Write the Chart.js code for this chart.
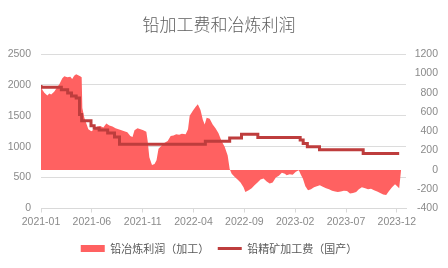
<!DOCTYPE html>
<html>
<head>
<meta charset="utf-8">
<script src="https://cdn.jsdelivr.net/npm/chart.js@4.4.1/dist/chart.umd.min.js"></script>
<style>
  html, body { margin: 0; padding: 0; background: #fff; }
  #wrap { width: 448px; height: 268px; }
</style>
</head>
<body>
<div id="wrap"><canvas id="chart"></canvas></div>
<script>
const tickLabels = ["2021-01", "2021-06", "2021-11", "2022-04", "2022-09", "2023-02", "2023-07", "2023-12"];

// 铅冶炼利润（加工） - right axis
const profitDates = ["2021-01-01","2021-01-05","2021-01-11","2021-01-20","2021-01-26","2021-02-01","2021-02-10","2021-02-18","2021-02-26","2021-03-04","2021-03-10","2021-03-19","2021-03-28","2021-04-03","2021-04-09","2021-04-15","2021-04-21","2021-04-27","2021-05-01","2021-05-03","2021-05-09","2021-05-15","2021-05-21","2021-05-30","2021-06-08","2021-06-17","2021-06-26","2021-07-05","2021-07-14","2021-07-23","2021-08-02","2021-08-11","2021-08-20","2021-08-29","2021-09-07","2021-09-16","2021-09-25","2021-10-01","2021-10-07","2021-10-16","2021-10-25","2021-11-03","2021-11-12","2021-11-16","2021-11-21","2021-11-29","2021-12-06","2021-12-12","2021-12-18","2021-12-27","2022-01-06","2022-01-15","2022-01-24","2022-02-02","2022-02-10","2022-02-19","2022-02-27","2022-03-08","2022-03-15","2022-03-20","2022-03-29","2022-04-07","2022-04-14","2022-04-22","2022-04-29","2022-05-04","2022-05-10","2022-05-19","2022-05-28","2022-06-06","2022-06-15","2022-06-24","2022-07-03","2022-07-12","2022-07-18","2022-07-24","2022-08-02","2022-08-11","2022-08-20","2022-08-29","2022-09-04","2022-09-14","2022-09-23","2022-10-01","2022-10-10","2022-10-19","2022-10-28","2022-11-07","2022-11-16","2022-11-25","2022-12-04","2022-12-13","2022-12-22","2022-12-31","2023-01-06","2023-01-15","2023-01-24","2023-02-03","2023-02-12","2023-02-18","2023-02-24","2023-03-01","2023-03-09","2023-03-18","2023-03-27","2023-04-05","2023-04-14","2023-04-23","2023-05-02","2023-05-11","2023-05-20","2023-05-29","2023-06-07","2023-06-16","2023-06-25","2023-07-04","2023-07-13","2023-07-22","2023-08-01","2023-08-09","2023-08-18","2023-08-28","2023-09-06","2023-09-15","2023-09-24","2023-10-03","2023-10-12","2023-10-21","2023-10-30","2023-11-08","2023-11-17","2023-11-26","2023-12-02","2023-12-08","2023-12-14"];
const profitValues = [880,830,800,770,790,780,810,850,890,950,970,960,965,940,975,990,980,970,960,640,540,480,420,400,420,450,455,440,480,460,450,430,420,410,400,390,350,340,410,430,420,410,395,300,130,50,60,100,220,250,280,300,350,355,370,365,375,370,420,560,610,650,680,620,520,470,540,530,470,430,380,300,240,150,10,-40,-70,-100,-130,-180,-230,-210,-190,-160,-130,-100,-90,-120,-140,-130,-80,-60,-30,-40,-55,-45,-50,-20,-5,-50,-90,-170,-210,-200,-180,-170,-160,-175,-190,-200,-215,-225,-230,-225,-215,-220,-245,-240,-230,-200,-180,-190,-200,-195,-210,-225,-240,-255,-260,-220,-180,-150,-170,-190,10];

// 铅精矿加工费（国产） - left axis, step changes
const tcDates = ["2021-01-01","2021-03-01","2021-03-20","2021-04-01","2021-04-15","2021-04-25","2021-05-01","2021-05-29","2021-06-08","2021-06-23","2021-07-18","2021-08-08","2021-08-23","2022-05-06","2022-07-18","2022-08-23","2022-10-11","2023-02-16","2023-02-25","2023-03-07","2023-04-13","2023-08-22","2023-10-28","2023-12-08"];
const tcValues = [2000,1960,1920,1870,1820,1790,1520,1420,1340,1300,1270,1220,1155,1040,1090,1140,1200,1150,1110,1050,1000,950,890,890];

function monthPos(d) {
  const p = d.split("-").map(Number);
  const day = p.length > 2 ? p[2] : 1;
  return (p[0] - 2021) * 12 + (p[1] - 1) + (day - 1) / 30.5;
}
function toPoints(dates, vals) {
  return dates.map((d, i) => ({ x: monthPos(d), y: vals[i] }));
}

const tickFont = { family: "'Liberation Sans', Arial, sans-serif", size: 10.5 };
const cjk = "'Noto Sans CJK SC', sans-serif";
const plain = (v) => String(v);

new Chart(document.getElementById("chart"), {
  type: "line",
  data: {
    datasets: [
      {
        label: "铅冶炼利润（加工）",
        data: toPoints(profitDates, profitValues),
        yAxisID: "y1",
        fill: "origin",
        backgroundColor: "#ff6161",
        borderColor: "#ff6161",
        borderWidth: 0,
        pointRadius: 0,
        pointStyle: "rect",
        order: 2,
      },
      {
        label: "铅精矿加工费（国产）",
        data: toPoints(tcDates, tcValues),
        yAxisID: "y",
        stepped: "after",
        fill: false,
        borderColor: "#be3d3d",
        backgroundColor: "#be3d3d",
        borderWidth: 3,
        pointRadius: 0,
        pointStyle: "line",
        order: 1,
      },
    ],
  },
  options: {
    responsive: true,
    maintainAspectRatio: false,
    animation: false,
    layout: { padding: { left: 0, right: 10, top: 0, bottom: 4 } },
    plugins: {
      title: {
        display: true,
        text: "铅加工费和冶炼利润",
        color: "#606060",
        font: { family: cjk, size: 17, weight: "300" },
        padding: { top: 14, bottom: 19.6 },
      },
      legend: {
        position: "bottom",
        labels: {
          usePointStyle: true,
          pointStyleWidth: 24,
          boxHeight: 7,
          padding: 8.5,
          color: "#595959",
          font: { family: cjk, size: 11 },
          sort: (a, b) => a.datasetIndex - b.datasetIndex,
        },
      },
      tooltip: { enabled: false },
    },
    scales: {
      x: {
        type: "linear",
        min: 0,
        max: 35.9,
        afterBuildTicks: (s) => {
          s.ticks = tickLabels.map((t) => ({ value: monthPos(t) }));
        },
        afterFit: (s) => { s.height = 26; },
        ticks: {
          color: "#8a8a8a",
          font: tickFont,
          padding: 3,
          maxRotation: 0,
          autoSkip: false,
          callback: (v) => {
            const y = 2021 + Math.floor(Math.round(v) / 12);
            const m = (Math.round(v) % 12) + 1;
            return y + "-" + (m < 10 ? "0" + m : m);
          },
        },
        grid: { drawOnChartArea: false, drawTicks: true, tickLength: 4, color: "#d9d9d9" },
        border: { color: "#d9d9d9" },
      },
      y: {
        position: "left",
        min: 0,
        max: 2500,
        afterFit: (s) => { s.width = 41; },
        ticks: { stepSize: 500, color: "#8a8a8a", font: tickFont, padding: 10, callback: plain },
        grid: { color: "#dcdcdc", drawTicks: false },
        border: { display: false },
      },
      y1: {
        position: "right",
        min: -400,
        max: 1200,
        afterFit: (s) => { s.width = 32; },
        ticks: { stepSize: 200, color: "#8a8a8a", font: tickFont, crossAlign: "far", callback: plain },
        grid: { display: false },
        border: { display: false },
      },
    },
  },
});
</script>
</body>
</html>
